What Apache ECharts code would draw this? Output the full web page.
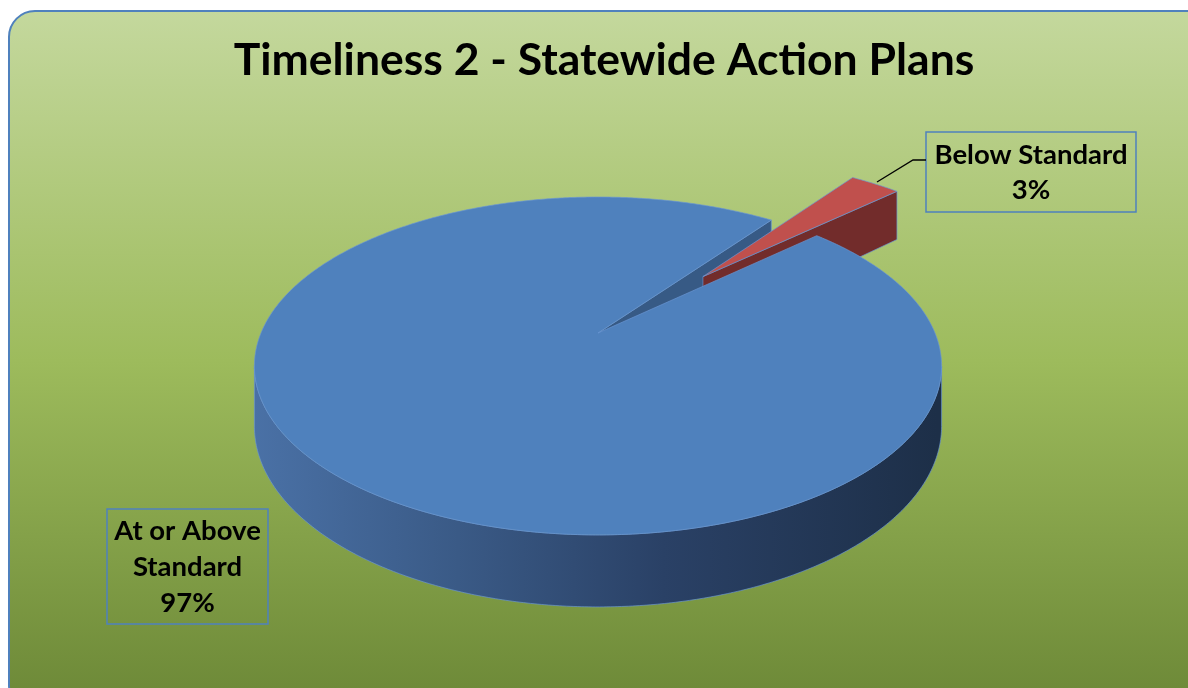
<!DOCTYPE html>
<html><head><meta charset="utf-8">
<script src="https://cdn.jsdelivr.net/npm/echarts@6/dist/echarts.min.js"></script>
<style>html,body{margin:0;padding:0;background:#fff}#c{width:1188px;height:688px}</style>
</head><body><div id="c"></div>
<script>
const chartTitle = 'Timeliness 2 - Statewide Action Plans';
const categories = ['At or Above Standard', 'Below Standard'];
const values = [97, 3];
const labelNames = ['At or Above\nStandard', 'Below Standard'];

// ---- view / style settings ----
const START = 47.3;            // first slice start, degrees clockwise from the back
const EXPLODE = [0, 0.5];      // explosion per slice (fraction of radius)
const CX = 598, CY = 333, RA = 337, RB = 162.5, P = 0.195, H = 58;
const TOP_COLORS = ['#4f81bd', '#c0504d'];
const SIDE_COLORS = ['#375a85', '#722c2b'];
const EDGE = 'rgba(105,150,212,0.85)';

const total = values.reduce((a, b) => a + b, 0);
const startAngles = [];
{ let acc = START; values.forEach(v => { startAngles.push(acc); acc += v / total * 360; }); }

function pt(phi, r, du, dv, z) {
  const a = phi * Math.PI / 180;
  const u = du + r * Math.sin(a), v = dv - r * Math.cos(a);
  const s = 1 / (1 - P * v);
  return [CX + RA * u * s, CY + RB * v * s + H * z * s];
}
function area(p) { let s = 0; for (let i = 0; i < p.length; i++) { const a = p[i], b = p[(i + 1) % p.length]; s += a[0] * b[1] - b[0] * a[1]; } return s / 2; }

function wallFill(i) {
  if (i === 0) {
    return new echarts.graphic.LinearGradient(253, 0, 937, 0, [
      { offset: 0, color: '#4a71a6' }, { offset: 0.3, color: '#3a5a86' },
      { offset: 0.6, color: '#2a4166' }, { offset: 1, color: '#1d2f48' }], true);
  }
  return '#8a3533';
}

function renderItem(params, api) {
  const i = params.dataIndex;
  const val = api.value(0);
  const a0 = startAngles[i], a1 = a0 + val / total * 360;
  const mid = (a0 + a1) / 2 * Math.PI / 180;
  const du = EXPLODE[i] * Math.sin(mid), dv = -EXPLODE[i] * Math.cos(mid);
  const exploded = EXPLODE[i] > 0;
  const zSide = exploded ? 2 : 1, zTop = exploded ? 3 : 4;
  const children = [];
  const step = 0.5;
  const angs = [];
  for (let a = a0; a < a1; a += step) angs.push(a);
  angs.push(a1);
  let run = [];
  const flush = () => {
    if (run.length > 1) {
      const top = run.map(a => pt(a, 1, du, dv, 0));
      const bot = run.map(a => pt(a, 1, du, dv, 1)).reverse();
      children.push({ type: 'polygon', z2: zSide, shape: { points: top.concat(bot) },
        style: { fill: wallFill(i), stroke: EDGE, lineWidth: 0.8 } });
    }
    run = [];
  };
  for (let k = 0; k < angs.length - 1; k++) {
    const q = [pt(angs[k], 1, du, dv, 0), pt(angs[k + 1], 1, du, dv, 0), pt(angs[k + 1], 1, du, dv, 1), pt(angs[k], 1, du, dv, 1)];
    if (area(q) < 0) { if (!run.length) run.push(angs[k]); run.push(angs[k + 1]); }
    else flush();
  }
  flush();
  const cT = pt(0, 0, du, dv, 0), cB = pt(0, 0, du, dv, 1);
  const sF = [cT, pt(a0, 1, du, dv, 0), pt(a0, 1, du, dv, 1), cB];
  if (area(sF) < 0) children.push({ type: 'polygon', z2: zSide, shape: { points: sF }, style: { fill: SIDE_COLORS[i], stroke: EDGE, lineWidth: 0.8 } });
  const eF = [cT, cB, pt(a1, 1, du, dv, 1), pt(a1, 1, du, dv, 0)];
  if (area(eF) < 0) children.push({ type: 'polygon', z2: zSide, shape: { points: eF }, style: { fill: SIDE_COLORS[i], stroke: EDGE, lineWidth: 0.8 } });
  const topPts = [cT].concat(angs.map(a => pt(a, 1, du, dv, 0)));
  children.push({ type: 'polygon', z2: zTop, shape: { points: topPts }, style: { fill: TOP_COLORS[i], stroke: EDGE, lineWidth: 0.8 } });
  return { type: 'group', children };
}

const pct = values.map(v => Math.round(v / total * 100) + '%');
const LABEL_FONT = 'bold 27.5px Lato';

const chart = echarts.init(document.getElementById('c'), null, { renderer: 'canvas' });
chart.setOption({
  animation: false,
  graphic: [
    { type: 'rect', z: -10, shape: { x: 9, y: 11, width: 1205, height: 700, r: 26 },
      style: { fill: new echarts.graphic.LinearGradient(0, 0, 0, 1, [
        { offset: 0, color: '#c4d89d' }, { offset: 0.5, color: '#9dbb5c' }, { offset: 1, color: '#6b8736' }]),
        stroke: '#4f81bd', lineWidth: 2 } },
    { type: 'text', z: 10, x: 604, y: 61, style: { text: chartTitle, font: 'bold 44.5px Lato', fill: '#000', align: 'center', verticalAlign: 'middle' } },
    { type: 'rect', z: 10, shape: { x: 926, y: 132, width: 210, height: 80 }, style: { fill: 'transparent', stroke: '#4f81bd', lineWidth: 1.5 } },
    { type: 'text', z: 10, x: 1031, y: 173, style: { text: labelNames[1] + '\n' + pct[1], font: LABEL_FONT, lineHeight: 35, fill: '#000', align: 'center', verticalAlign: 'middle' } },
    { type: 'rect', z: 10, shape: { x: 107, y: 509, width: 161, height: 115 }, style: { fill: 'transparent', stroke: '#4f81bd', lineWidth: 1.5 } },
    { type: 'text', z: 10, x: 187.5, y: 567, style: { text: labelNames[0] + '\n' + pct[0], font: LABEL_FONT, lineHeight: 36, fill: '#000', align: 'center', verticalAlign: 'middle' } },
    { type: 'polyline', z: 10, shape: { points: [[926, 160], [913, 160], [877, 182]] }, style: { stroke: '#000', lineWidth: 1.3 } }
  ],
  series: [{
    type: 'custom', coordinateSystem: 'none',
    data: values.map((v, i) => ({ name: categories[i], value: v })),
    renderItem
  }]
});
</script></body></html>
